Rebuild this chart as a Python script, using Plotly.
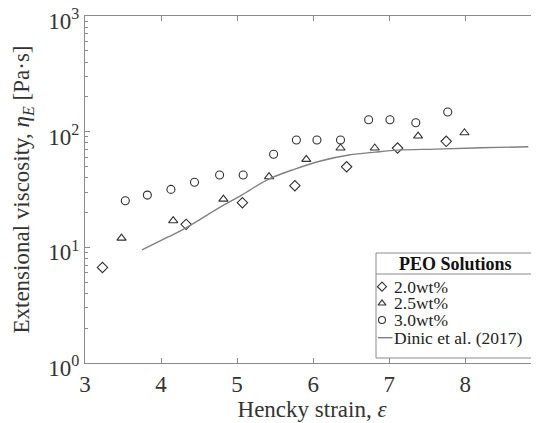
import plotly.graph_objects as go

# 2.0 wt% PEO
x_20 = [3.23, 4.33, 5.07, 5.76, 6.44, 7.11, 7.75]
y_20 = [6.7, 15.8, 24.3, 34.1, 49.7, 72.2, 82.5]

# 2.5 wt% PEO
x_25 = [3.48, 4.16, 4.82, 5.42, 5.91, 6.36, 6.81, 7.38, 7.99]
y_25 = [12.0, 17.0, 26.1, 40.8, 57.6, 72.2, 72.2, 91.6, 97.8]

# 3.0 wt% PEO
x_30 = [3.53, 3.82, 4.13, 4.44, 4.77, 5.08, 5.48, 5.78, 6.05, 6.36, 6.73, 7.01, 7.35, 7.77]
y_30 = [25.3, 28.3, 31.7, 36.5, 42.2, 42.2, 63.7, 84.6, 84.6, 84.6, 126.7, 126.7, 119.4, 147.7]

# Dinic et al. (2017)
x_dinic = [3.75, 4.10, 4.34, 4.75, 5.06, 5.41, 5.76, 6.11, 6.47, 6.82, 7.12, 7.61, 8.20, 8.83]
y_dinic = [9.5, 12.35, 14.9, 21.7, 28.3, 38.7, 47.5, 56.1, 62.8, 66.6, 69.3, 70.7, 72.5, 74.1]

x_ticks = [3, 4, 5, 6, 7, 8]
y_ticks = [1, 10, 100, 1000]
y_exponents = ["0", "1", "2", "3"]
y_minor = [m * 10 ** d for d in range(3) for m in range(2, 10)]

legend_title = "PEO Solutions"
series_names = ["2.0wt%", "2.5wt%", "3.0wt%", "Dinic et al. (2017)"]
series_symbols = ["diamond-open", "triangle-up-open", "circle-open"]

FONT = "Liberation Serif"
MK = "#303030"
AX = "#8a8a8a"
TXT = "#333333"
LINE = "#808080"

y_ticktext = ["10<sup>" + e + "</sup>" for e in y_exponents]

# The page body adds an 8 px offset; the figure is sized to fit the window.
OFF = 8
W, H = 539 - OFF, 423 - OFF
# Plot-area box in window pixels
L, R, T, B = 85, 539, 16, 363

fig = go.Figure()
for xs, ys, nm, sym in zip([x_20, x_25, x_30], [y_20, y_25, y_30], series_names[:3], series_symbols):
    fig.add_trace(go.Scatter(x=xs, y=ys, mode="markers", name=nm, showlegend=False,
                             marker=dict(symbol=sym, size=8, color=MK, line=dict(width=1.1, color=MK))))
fig.add_trace(go.Scatter(x=x_dinic, y=y_dinic, mode="lines", name=series_names[3], showlegend=False,
                         line=dict(color=LINE, width=1.4, shape="spline")))

# ---- legend (drawn in a pixel-space overlay) ----
box_x0, box_x1, box_y0, box_y1 = 376, 535, 253, 358
sep_y = 274
entry_y = [286.7, 303.3, 320.0, 337.7]
sym_x = 382
text_x = 393

for nm, sym, ey in zip(series_names[:3], series_symbols, entry_y[:3]):
    fig.add_trace(go.Scatter(x=[sym_x], y=[ey], xaxis="x2", yaxis="y2", mode="markers",
                             showlegend=False, hoverinfo="skip",
                             marker=dict(symbol=sym, size=7, color=MK, line=dict(width=1.1, color=MK))))
fig.add_trace(go.Scatter(x=[378, 392.5], y=[entry_y[3], entry_y[3]], xaxis="x2", yaxis="y2",
                         mode="lines", showlegend=False, hoverinfo="skip",
                         line=dict(color=LINE, width=1.4)))

shapes = [
    dict(type="rect", xref="x2", yref="y2", x0=box_x0, x1=box_x1, y0=box_y0, y1=box_y1,
         line=dict(color=AX, width=1), fillcolor="white", layer="below"),
    dict(type="line", xref="x2", yref="y2", x0=box_x0, x1=box_x1, y0=sep_y, y1=sep_y,
         line=dict(color=AX, width=1)),
]
annotations = [
    dict(xref="x2", yref="y2", x=(box_x0 + box_x1) / 2, y=(box_y0 + sep_y) / 2,
         text="<b>" + legend_title + "</b>", showarrow=False, xanchor="center", yanchor="middle",
         font=dict(family=FONT, size=18, color="#111111")),
]
for nm, ey in zip(series_names, entry_y):
    annotations.append(dict(xref="x2", yref="y2", x=text_x, y=ey, text=nm, showarrow=False,
                            xanchor="left", yanchor="middle", borderpad=0,
                            font=dict(family=FONT, size=17.5, color="#222222")))

fig.update_layout(
    width=W, height=H,
    margin=dict(l=L - OFF, r=(539 - OFF) - (R - OFF), t=T - OFF, b=(423 - OFF) - (B - OFF)),
    paper_bgcolor="white", plot_bgcolor="white",
    font=dict(family=FONT, size=23, color=TXT),
    showlegend=False,
    shapes=shapes, annotations=annotations,
    xaxis=dict(
        range=[3, 8.97], tickvals=x_ticks, ticks="inside", ticklen=5,
        tickcolor=AX, showline=True, linecolor=AX, linewidth=1.2, mirror="ticks",
        showgrid=False, zeroline=False, automargin=False, ticklabeloverflow="allow",
        tickfont=dict(family=FONT, size=23, color=TXT),
        title=dict(text="Hencky strain, <i>ε</i>", standoff=2,
                   font=dict(family=FONT, size=23, color=TXT)),
    ),
    yaxis=dict(
        type="log", range=[0, 3], tickvals=y_ticks, ticktext=y_ticktext,
        ticks="inside", ticklen=5, tickcolor=AX,
        showline=True, linecolor=AX, linewidth=1.2, mirror=False,
        showgrid=False, zeroline=False, automargin=False, ticklabeloverflow="allow",
        ticklabelshift=5,
        minor=dict(tickvals=y_minor, ticks="inside", ticklen=3, tickcolor=AX, showgrid=False),
        tickfont=dict(family=FONT, size=23, color=TXT),
        title=dict(text="Extensional viscosity, <i>η</i><sub><i>E</i></sub> [Pa·s]", standoff=12,
                   font=dict(family=FONT, size=23, color=TXT)),
    ),
    xaxis2=dict(overlaying="x", range=[L, R], visible=False, fixedrange=True),
    yaxis2=dict(overlaying="y", range=[B, T], visible=False, fixedrange=True),
)

fig.write_html("out.html")
